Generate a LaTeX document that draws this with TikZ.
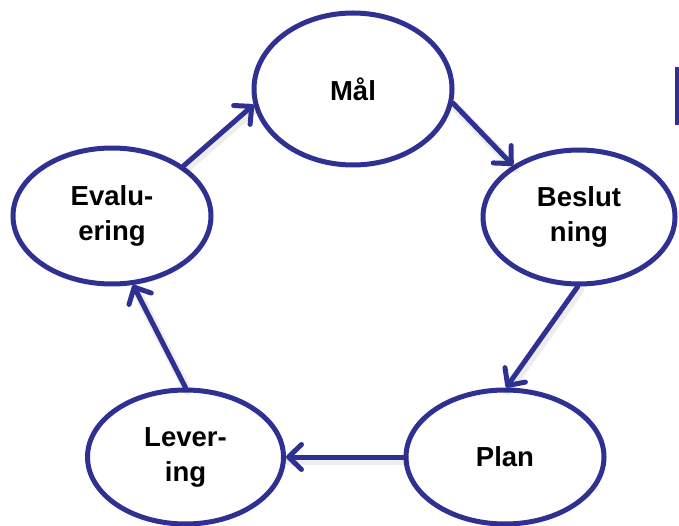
\documentclass[tikz,border=0pt]{standalone}
\usepackage{fontspec}
\setmainfont{Liberation Sans}
\usetikzlibrary{arrows.meta,shapes.geometric}
\definecolor{cycblue}{RGB}{46,49,146}
\begin{document}
\begin{tikzpicture}[x=1pt,y=-1pt,
  stage/.style={ellipse, draw=cycblue, line width=5pt, fill=white, inner sep=0pt,
    align=center, font=\fontsize{27.5}{35}\selectfont\bfseries},
  flow/.style={draw=cycblue, line width=5pt, line cap=round,
    -{Straight Barb[length=13pt,width=25pt,round]}},
  flowshadow/.style={draw=black, opacity=0.07, line width=9pt, line cap=round,
    transform canvas={shift={(2pt,-3pt)}}}]
\useasboundingbox (0,0) rectangle (679,526);
\node[stage, minimum width=198pt, minimum height=152pt] (mal)  at (353,89)    {Mål};
\node[stage, minimum width=192pt, minimum height=134pt] (bes)  at (579,217)   {Beslut\\ning};
\node[stage, minimum width=198pt, minimum height=134pt] (plan) at (505,457)   {Plan};
\node[stage, minimum width=196pt, minimum height=134pt] (lev)  at (185.5,457) {Lever-\\ing};
\node[stage, minimum width=198pt, minimum height=136pt] (eval) at (112,216)   {Evalu-\\ering};
\draw[flowshadow] (mal.-8.6) -- (bes.142.7);
\draw[flowshadow] (bes.-91) -- (plan.89);
\draw[flowshadow] (plan.180) -- (lev.0);
\draw[flowshadow] (lev.90) -- (eval.-73);
\draw[flowshadow] (eval.35) -- (mal.189.5);
\draw[flow] (mal.-8.6) -- (bes.142.7);
\draw[flow] (bes.-91) -- (plan.89);
\draw[flow] (plan.180) -- (lev.0);
\draw[flow] (lev.90) -- (eval.-73);
\draw[flow] (eval.35) -- (mal.189.5);
\fill[cycblue] (675,67) rectangle (679,125);
\end{tikzpicture}
\end{document}
